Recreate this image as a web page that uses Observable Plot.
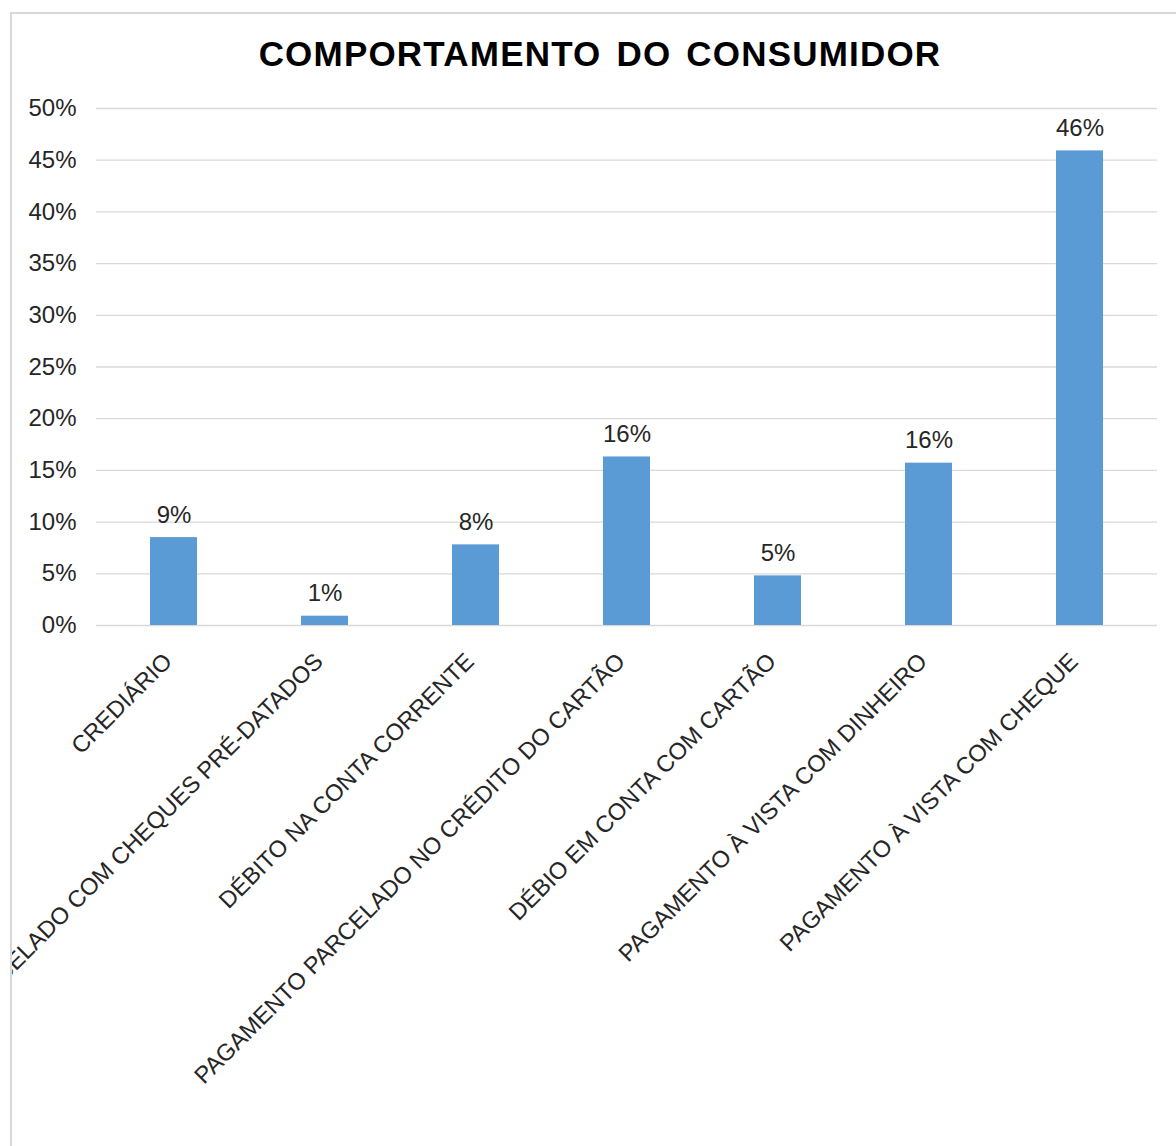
<!DOCTYPE html>
<html>
<head>
<meta charset="utf-8">
<script src="https://cdn.jsdelivr.net/npm/d3@7"></script>
<script src="https://cdn.jsdelivr.net/npm/@observablehq/plot@0.6"></script>
<style>
  html, body { margin: 0; padding: 0; background: #fff; }
  body { width: 1176px; height: 1146px; position: relative; overflow: hidden; font-family: "Liberation Sans", Arial, sans-serif; }
  #frame { position: absolute; left: 10px; top: 12px; width: 1166px; height: 1134px; border-left: 2px solid #d9d9d9; border-top: 2px solid #d9d9d9; overflow: hidden; box-sizing: border-box; }
  #title { position: absolute; left: 0; width: 1176px; text-align: center; top: 34px; font-size: 35px; line-height: 40px; font-weight: bold; color: #000; letter-spacing: 1.2px; word-spacing: 4px; margin-left: 12px; }
  #chart { position: absolute; left: 0; top: 0; }
  #chart svg { overflow: visible; }
</style>
</head>
<body>
<div id="frame">
  <div id="chart"></div>
</div>
<div id="title">COMPORTAMENTO DO CONSUMIDOR</div>
<script>
const categories = [
  "CREDIÁRIO",
  "PAGAMENTO PARCELADO COM CHEQUES PRÉ-DATADOS",
  "DÉBITO NA CONTA CORRENTE",
  "PAGAMENTO PARCELADO NO CRÉDITO DO CARTÃO",
  "DÉBIO EM CONTA COM CARTÃO",
  "PAGAMENTO À VISTA COM DINHEIRO",
  "PAGAMENTO À VISTA COM CHEQUE"
];
const values = [8.5, 0.9, 7.8, 16.3, 4.8, 15.7, 45.9];
const yTicks = [0, 5, 10, 15, 20, 25, 30, 35, 40, 45, 50];

const data = categories.map((c, i) => ({category: c, value: values[i]}));

const chart = Plot.plot({
  width: 1164,
  height: 1132,
  marginLeft: 84,
  marginRight: 19,
  marginTop: 94,
  marginBottom: 521,
  style: {fontFamily: "Liberation Sans, Arial, sans-serif", fontSize: "24px", color: "#262626", background: "transparent"},
  x: {domain: categories, paddingInner: 0.687, paddingOuter: 0.3435, label: null},
  y: {domain: [0, 50], label: null},
  marks: [
    Plot.gridY(yTicks, {stroke: "#d9d9d9", strokeOpacity: 1, strokeWidth: 1.3}),
    Plot.barY(data, {x: "category", y: "value", fill: "#5b9bd5"}),
    Plot.text(data, {x: "category", y: "value", text: d => Math.round(d.value) + "%", lineAnchor: "bottom", dy: -15, fontSize: 24, fill: "#262626"}),
    Plot.axisY(yTicks, {tickSize: 0, tickPadding: 20, tickFormat: d => d + "%", fontSize: 24, label: null}),
    Plot.axisX({tickSize: 0, tickPadding: 32, dx: -6, tickRotate: -45, fontSize: 23.5, label: null})
  ]
});
document.getElementById("chart").appendChild(chart);
</script>
</body>
</html>
